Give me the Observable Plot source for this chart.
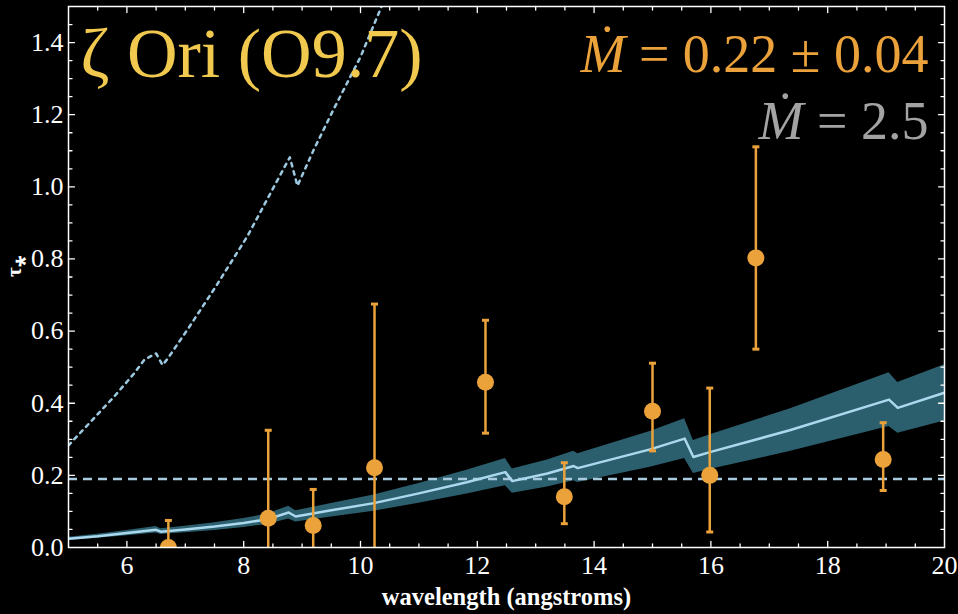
<!DOCTYPE html>
<html>
<head>
<meta charset="utf-8">
<script src="https://cdn.jsdelivr.net/npm/d3@7"></script>
<script src="https://cdn.jsdelivr.net/npm/@observablehq/plot@0.6"></script>
<style>
  html, body { margin: 0; padding: 0; background: #000; }
</style>
</head>
<body>
<div id="chart"></div>
<script>
// Axis ranges and labelled ticks
const xDomain = [5, 20];
const yDomain = [0, 1.5];
const xTicks = [6, 8, 10, 12, 14, 16, 18, 20];
const yTicks = [0, 0.2, 0.4, 0.6, 0.8, 1.0, 1.2, 1.4];

// Mass-loss rates quoted on the chart (10^-6 Msun/yr)
const mdotFit = 0.22;
const mdotErr = 0.04;
const mdotTheory = 2.5;

// Fitted tau* per line (orange points with error bars)
const lineWavelength = [6.71, 8.42, 9.19, 10.24, 12.14, 13.49, 15.0, 15.98, 16.77, 18.95];
const lineTau        = [0.0, 0.081, 0.061, 0.221, 0.458, 0.141, 0.378, 0.200, 0.803, 0.244];
const lineTauHigh    = [0.075, 0.325, 0.161, 0.675, 0.630, 0.235, 0.511, 0.442, 1.111, 0.346];
const lineTauLow     = [0, 0, 0, 0, 0.317, 0.066, 0.268, 0.043, 0.550, 0.158];

// Wind opacity model tau*(lambda) for the fitted mass-loss rate
const modelWavelength = [5.0, 5.5, 6.0, 6.5, 6.58, 7.0, 7.5, 8.0, 8.4, 8.77, 8.89, 9.5, 10.23, 11.0, 11.82, 12.48, 12.6, 13.2, 13.65, 13.72, 14.96, 15.55, 15.7, 16.0, 17.35, 19.05, 19.2, 20.0];
const modelTau        = [0.024, 0.031, 0.040, 0.049, 0.044, 0.050, 0.058, 0.068, 0.078, 0.097, 0.086, 0.103, 0.123, 0.150, 0.181, 0.209, 0.184, 0.205, 0.226, 0.220, 0.272, 0.302, 0.251, 0.265, 0.325, 0.410, 0.387, 0.429];

// Same model at the theoretical mass-loss rate (dotted)
const theoryWavelength = [5.0, 5.78, 5.95, 6.12, 6.30, 6.50, 6.61, 6.70, 7.07, 7.52, 8.06, 8.52, 8.79, 8.92, 9.20, 9.54, 10.0, 10.36];
const theoryTau        = [0.283, 0.418, 0.45, 0.482, 0.521, 0.538, 0.506, 0.524, 0.612, 0.723, 0.862, 1.001, 1.082, 1.003, 1.103, 1.215, 1.36, 1.50];

// Constant-tau reference level (dashed)
const flatTau = [0.19];

const lines = lineWavelength.map((w, i) => ({w, tau: lineTau[i], hi: lineTauHigh[i], lo: lineTauLow[i]}));
// tau* scales linearly with Mdot, so the band spans Mdot +/- its error
const model = modelWavelength.map((w, i) => ({
  w,
  tau: modelTau[i],
  lo: modelTau[i] * (mdotFit - mdotErr) / mdotFit,
  hi: modelTau[i] * (mdotFit + mdotErr) / mdotFit
}));
const theory = theoryWavelength.map((w, i) => ({w, tau: theoryTau[i]}));

const xMinor = d3.range(5.5, 20, 0.5).filter(v => !xTicks.includes(v));
const xMajor = xTicks.filter(v => v < xDomain[1]);
const yMinor = d3.range(0.05, 1.5, 0.05).map(v => +v.toFixed(2)).filter(v => !yTicks.some(t => Math.abs(t - v) < 1e-9));
const yMajor = yTicks.filter(v => v > yDomain[0]);

const serif = "'Liberation Serif', 'Times New Roman', serif";
const orange = "#eba23b";
const tickShape = {draw(context, l) { context.moveTo(0, 0); context.lineTo(0, -l); }};
const capSymbol = {draw(context, size) { const r = Math.sqrt(size / Math.PI); context.moveTo(-r, 0); context.lineTo(r, 0); }};

function inwardTicks(values, length) {
  return [
    Plot.vector(values.x, {x: d => d, y: () => yDomain[0], length, rotate: 0, anchor: "start", shape: tickShape, stroke: "white", strokeWidth: 1.3}),
    Plot.vector(values.x, {x: d => d, y: () => yDomain[1], length, rotate: 180, anchor: "start", shape: tickShape, stroke: "white", strokeWidth: 1.3}),
    Plot.vector(values.y, {x: () => xDomain[0], y: d => d, length, rotate: 90, anchor: "start", shape: tickShape, stroke: "white", strokeWidth: 1.3}),
    Plot.vector(values.y, {x: () => xDomain[1], y: d => d, length, rotate: -90, anchor: "start", shape: tickShape, stroke: "white", strokeWidth: 1.3})
  ];
}

const chart = Plot.plot({
  width: 958,
  height: 614,
  marginLeft: 68,
  marginRight: 14,
  marginTop: 6,
  marginBottom: 67,
  style: {background: "#000", color: "white", fontFamily: serif, fontSize: "26px"},
  x: {domain: xDomain},
  y: {domain: yDomain},
  marks: [
    Plot.areaY(model, {x: "w", y1: "lo", y2: "hi", fill: "#2c5f6e", clip: true}),
    Plot.ruleY(flatTau, {stroke: "#a8cade", strokeWidth: 2.5, strokeDasharray: "9,6"}),
    Plot.lineY(model, {x: "w", y: "tau", stroke: "#acd8ee", strokeWidth: 2.5, clip: true}),
    Plot.lineY(theory, {x: "w", y: "tau", stroke: "#9cc8e0", strokeWidth: 2.5, strokeDasharray: "3.5,5", clip: true}),
    Plot.ruleX(lines, {x: "w", y1: "lo", y2: "hi", stroke: orange, strokeWidth: 2.5, clip: true}),
    Plot.dot(lines, {x: "w", y: "hi", r: 3.5, symbol: capSymbol, fill: "none", stroke: orange, strokeWidth: 3, clip: true}),
    Plot.dot(lines.filter(d => d.lo > 0), {x: "w", y: "lo", r: 3.5, symbol: capSymbol, fill: "none", stroke: orange, strokeWidth: 3, clip: true}),
    Plot.dot(lines, {x: "w", y: "tau", r: 8.5, fill: orange, stroke: "none", clip: true}),
    Plot.frame({stroke: "white", strokeWidth: 1.5}),
    ...inwardTicks({x: xMajor, y: yMajor}, 6),
    ...inwardTicks({x: xMinor, y: yMinor}, 3.5),
    Plot.axisX(xTicks, {anchor: "bottom", tickSize: 0, tickPadding: 8, label: null, fill: "white", fontFamily: serif}),
    Plot.axisY(yTicks, {anchor: "left", tickSize: 0, tickPadding: 5, tickFormat: d3.format(".1f"), label: null, fill: "white", fontFamily: serif}),
    Plot.text(["wavelength (angstroms)"], {frameAnchor: "bottom", dy: 57, lineAnchor: "bottom", fontSize: 24.5, fontWeight: "bold", fontFamily: serif, fill: "white"}),
    Plot.text(["τ⁎"], {frameAnchor: "left", dx: -54, rotate: -90, lineAnchor: "middle", fontSize: 21, fontWeight: "bold", fontFamily: serif, fill: "white"}),
    Plot.text(["ζ Ori (O9.7)"], {frameAnchor: "top-left", dx: 12, dy: 70, lineAnchor: "bottom", textAnchor: "start", fontSize: 70, fontFamily: serif, fill: "#f0c94e"}),
    Plot.text([`Ṁ = ${mdotFit} ± ${mdotErr}`], {frameAnchor: "top-right", dx: -16, dy: 65, lineAnchor: "bottom", textAnchor: "end", fontSize: 54, fontFamily: serif, fill: orange, className: "mdot"}),
    Plot.text([`Ṁ = ${mdotTheory}`], {frameAnchor: "top-right", dx: -16, dy: 132, lineAnchor: "bottom", textAnchor: "end", fontSize: 54, fontFamily: serif, fill: "#a3a3a3", className: "mdot"})
  ]
});

// Set the Mdot symbol in italics, as in math typesetting
d3.select(chart).selectAll(".mdot text").each(function() {
  const t = d3.select(this);
  const s = t.text();
  t.text(null);
  t.append("tspan").attr("font-style", "italic").text(s.slice(0, 1));
  t.append("tspan").text(s.slice(1));
});

document.getElementById("chart").appendChild(chart);
</script>
</body>
</html>
